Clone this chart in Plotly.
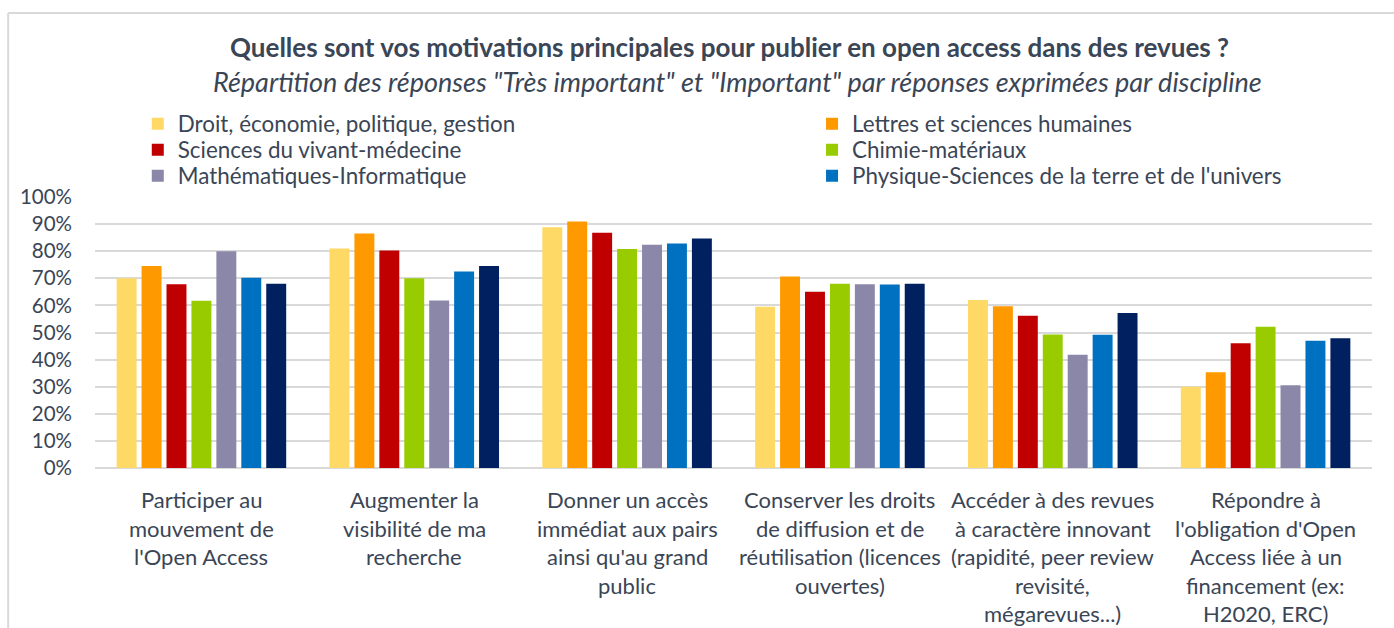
import plotly.graph_objects as go

# Motivations (category axis), one list of wrapped label lines per motivation
categories = [
    "Participer au mouvement de l'Open Access",
    "Augmenter la visibilité de ma recherche",
    "Donner un accès immédiat aux pairs ainsi qu'au grand public",
    "Conserver les droits de diffusion et de réutilisation (licences ouvertes)",
    "Accéder à des revues à caractère innovant (rapidité, peer review revisité, mégarevues...)",
    "Répondre à l'obligation d'Open Access liée à un financement (ex: H2020, ERC)",
]
category_lines = [
    ["Participer au", "mouvement de", "l'Open Access"],
    ["Augmenter la", "visibilité de ma", "recherche"],
    ["Donner un accès", "immédiat aux pairs", "ainsi qu'au grand", "public"],
    ["Conserver les droits", "de diffusion et de", "réutilisation (licences", "ouvertes)"],
    ["Accéder à des revues", "à caractère innovant", "(rapidité, peer review", "revisité,", "mégarevues...)"],
    ["Répondre à", "l'obligation d'Open", "Access liée à un", "financement (ex:", "H2020, ERC)"],
]

# Share of "Très important" + "Important" answers (%), per discipline
droit_eco = [70.0, 81.0, 88.8, 59.5, 62.0, 30.0]
lettres_shs = [74.5, 86.5, 91.0, 70.7, 59.7, 35.3]
vivant_medecine = [67.8, 80.3, 86.8, 65.0, 56.2, 46.0]
chimie_materiaux = [61.7, 70.0, 80.8, 68.0, 49.3, 52.1]
maths_info = [80.0, 61.8, 82.4, 67.8, 41.8, 30.5]
physique_terre = [70.2, 72.5, 82.8, 67.7, 49.2, 47.0]
autres = [68.0, 74.5, 84.7, 68.0, 57.2, 47.9]

series_names = [
    "Droit, économie, politique, gestion",
    "Lettres et sciences humaines",
    "Sciences du vivant-médecine",
    "Chimie-matériaux",
    "Mathématiques-Informatique",
    "Physique-Sciences de la terre et de l'univers",
    "Autres",
]
series_values = [droit_eco, lettres_shs, vivant_medecine, chimie_materiaux,
                 maths_info, physique_terre, autres]
series_colors = ["#FFD966", "#FF9900", "#C00000", "#99CC00",
                 "#8B87A8", "#0070C0", "#002060"]

y_ticks = list(range(0, 101, 10))
y_tick_labels = [f"{v}%" for v in y_ticks]

TEXT = "#3A4556"
FONT = "Lato"

# Legend grid: two columns, three rows; the last series has no entry
legend_cols = [0.0335, 0.5615]
legend_rows = [1.269, 1.173, 1.077]

fig = go.Figure()
legend_layouts = {}
for i, (name, vals, color) in enumerate(zip(series_names, series_values, series_colors)):
    has_entry = i < 6
    leg_id = "legend" if i == 0 else f"legend{i + 1}"
    fig.add_trace(go.Bar(
        x=categories, y=vals, name=name,
        marker=dict(color=color, line=dict(width=0)),
        showlegend=has_entry,
        legend=leg_id if has_entry else "legend",
    ))
    if has_entry:
        legend_layouts[leg_id] = dict(
            x=legend_cols[i % 2], y=legend_rows[i // 2],
            xanchor="left", yanchor="middle", orientation="v",
            font=dict(family=FONT, size=22.4, color=TEXT),
            bgcolor="rgba(0,0,0,0)", itemclick=False,
        )

# Multi-line category labels, one annotation per line for Excel-like spacing
annotations = []
for cat, lines in zip(categories, category_lines):
    for i, line in enumerate(lines):
        annotations.append(dict(
            x=cat, xref="x", y=0, yref="paper", yanchor="middle",
            yshift=-(31.5 + 28.6 * i), text=line, showarrow=False,
            font=dict(family=FONT, size=22, color=TEXT),
        ))

# Title and subtitle
annotations.append(dict(
    x=0.497, y=1.555, xref="paper", yref="paper", showarrow=False,
    text="<b>Quelles sont vos motivations principales pour publier en open access dans des revues ?</b>",
    font=dict(family=FONT, size=26, color=TEXT), yanchor="middle",
))
annotations.append(dict(
    x=0.503, y=1.425, xref="paper", yref="paper", showarrow=False,
    text="<i>Répartition des réponses \"Très important\" et \"Important\" par réponses exprimées par discipline</i>",
    font=dict(family=FONT, size=27, color=TEXT), yanchor="middle",
))

frame = dict(color="#D9D9D9", width=2)
shapes = [
    dict(type="line", xref="paper", yref="paper", x0=-0.068, x1=1.2, y0=1.679, y1=1.679, line=frame),
    dict(type="line", xref="paper", yref="paper", x0=-0.068, x1=-0.068, y0=1.679, y1=-0.7, line=frame),
]

fig.update_layout(
    width=1394, height=628,
    margin=dict(l=95, r=22, t=197, b=160),
    paper_bgcolor="white", plot_bgcolor="white",
    barmode="group", bargap=0.18, bargroupgap=0.2,
    font=dict(family=FONT, color=TEXT),
    annotations=annotations,
    shapes=shapes,
    xaxis=dict(showticklabels=False, showgrid=False, zeroline=False,
               showline=False, ticks=""),
    yaxis=dict(range=[0, 100], tickvals=y_ticks, ticktext=y_tick_labels,
               showgrid=True, gridcolor="#D9D9D9", gridwidth=2,
               zeroline=True, zerolinecolor="#D9D9D9", zerolinewidth=2,
               ticks="", ticklabelstandoff=22,
               tickfont=dict(family=FONT, size=20.5, color=TEXT)),
    **legend_layouts,
)

fig.write_html("out.html")
